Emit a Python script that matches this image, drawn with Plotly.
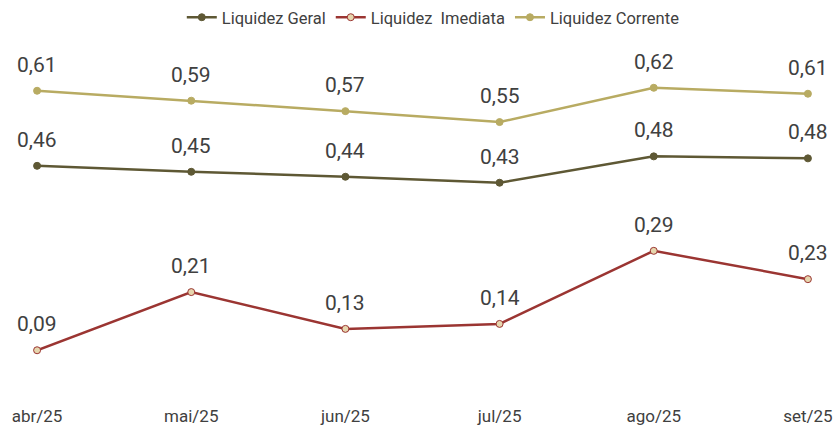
import plotly.graph_objects as go

categories = ["abr/25", "mai/25", "jun/25", "jul/25", "ago/25", "set/25"]
liq_geral = [0.461, 0.449, 0.439, 0.427, 0.480, 0.476]
liq_imediata = [0.090, 0.207, 0.133, 0.143, 0.290, 0.233]
liq_corrente = [0.612, 0.592, 0.571, 0.549, 0.618, 0.606]

series = [
    ("Liquidez Geral", liq_geral, "#5E5834", "#5E5834", "#5E5834"),
    ("Liquidez  Imediata", liq_imediata, "#9B3532", "#E6D6AE", "#9B3532"),
    ("Liquidez Corrente", liq_corrente, "#B8AB62", "#B8AB62", "#B8AB62"),
]

xs = list(range(len(categories)))
fig = go.Figure()
annotations = []
for name, vals, lc, mfill, mline in series:
    fig.add_trace(go.Scatter(
        x=xs, y=vals, mode="lines+markers", name=name, cliponaxis=False,
        line=dict(color=lc, width=2.5),
        marker=dict(size=7, color=mfill, line=dict(color=mline, width=1)),
    ))
    for x, v in zip(xs, vals):
        annotations.append(dict(
            x=x, y=v, xref="x", yref="y", text=f"{v:.2f}".replace(".", ","),
            showarrow=False, yshift=26,
            font=dict(size=21, color="#404040", family="Roboto"),
        ))

fig.update_layout(
    width=834, height=428,
    margin=dict(l=37, r=26, t=47, b=33, autoexpand=False),
    paper_bgcolor="white", plot_bgcolor="white",
    font=dict(family="Roboto", color="#404040"),
    showlegend=True,
    legend=dict(orientation="h", x=0.514, xanchor="center", y=1.0, yref="container",
                yanchor="top", font=dict(size=16.5, color="#404040"),
                itemwidth=30, tracegroupgap=0),
    annotations=annotations,
    xaxis=dict(range=[-0.0005, 5.0005], tickvals=xs, ticktext=categories, showgrid=False,
               zeroline=False, showline=False, ticks="", automargin=False,
               tickfont=dict(size=17, color="#404040"), ticklabelstandoff=9),
    yaxis=dict(range=[0, 0.7], visible=False, showgrid=False, zeroline=False,
               automargin=False),
)

fig.write_html(
    "out.html",
    config={"displayModeBar": False},
    post_script="document.body.style.margin='0';document.body.style.overflow='hidden';",
)
